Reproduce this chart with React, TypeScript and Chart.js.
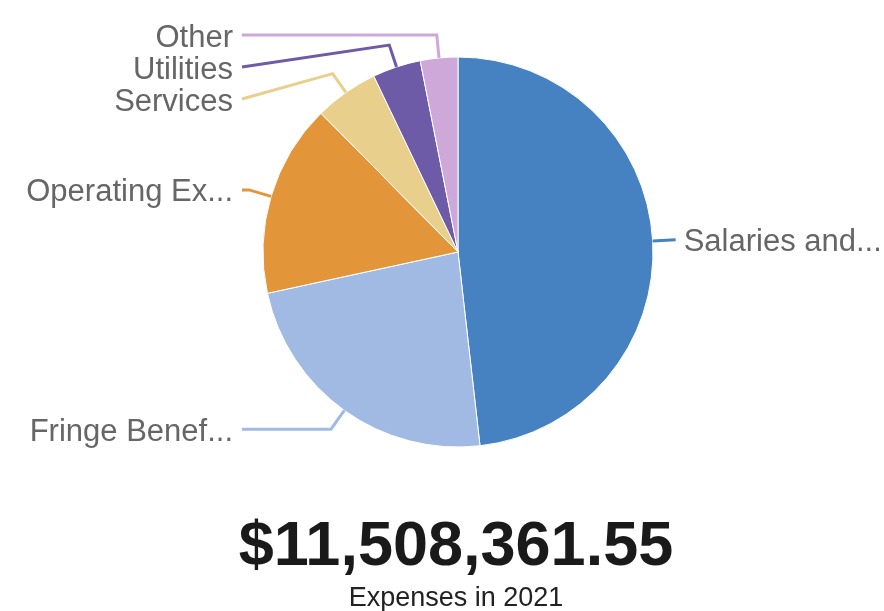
import React, { useEffect, useRef } from "react";
import { Chart, registerables } from "chart.js";

Chart.register(...registerables);

const categories = ["Salaries and...", "Fringe Benef...", "Operating Ex...", "Services", "Utilities", "Other"];
const expenses = [5547000, 2693000, 1841000, 610000, 460000, 357361.55];
const sliceColors = ["#4682c1", "#a1bae4", "#e3953a", "#e8d08c", "#6e5ba8", "#cfa8da"];
const totalLabel = "$11,508,361.55";
const subtitleLabel = "Expenses in 2021";

const W = 884;
const H = 611;

const outLabels = {
  id: "outLabels",
  afterDatasetsDraw(chart: any) {
    const ctx = chart.ctx;
    const meta = chart.getDatasetMeta(0);
    const labels = chart.data.labels as string[];
    const colors = chart.data.datasets[0].backgroundColor as string[];
    const items: any[] = [];
    meta.data.forEach((arc: any, i: number) => {
      const { x, y, startAngle, endAngle, outerRadius } = arc.getProps(
        ["x", "y", "startAngle", "endAngle", "outerRadius"],
        true
      );
      const a = (startAngle + endAngle) / 2;
      const cos = Math.cos(a);
      const sin = Math.sin(a);
      const ex = x + outerRadius * cos;
      const ey = y + outerRadius * sin;
      const er = outerRadius + 23;
      const bx = x + er * cos;
      const by = y + er * sin;
      const right = cos >= 0;
      items.push({ i, cx: x, r: outerRadius, ex, ey, bx, by, right, ly: by });
    });
    const spacing = 32;
    [true, false].forEach((side) => {
      const group = items.filter((it) => it.right === side).sort((p, q) => p.by - q.by);
      let prev = -Infinity;
      group.forEach((it) => {
        it.ly = Math.max(it.by, prev + spacing);
        prev = it.ly;
      });
    });
    ctx.save();
    ctx.font = "31px 'Liberation Sans', Arial, sans-serif";
    ctx.textBaseline = "middle";
    items.forEach((it) => {
      const endX = it.right
        ? Math.max(it.bx, it.cx + it.r + 21)
        : Math.min(it.bx, it.cx - it.r - 21);
      ctx.strokeStyle = colors[it.i];
      ctx.lineWidth = 3;
      ctx.lineJoin = "miter";
      ctx.beginPath();
      ctx.moveTo(it.ex, it.ey);
      ctx.lineTo(it.bx, it.by);
      ctx.lineTo(endX, it.ly);
      ctx.stroke();
      ctx.fillStyle = "#666666";
      ctx.textAlign = it.right ? "left" : "right";
      ctx.fillText(labels[it.i], it.right ? endX + 8 : endX - 9, it.ly + 3);
    });
    ctx.restore();
  },
};

export default function App() {
  const ref = useRef<HTMLCanvasElement | null>(null);
  useEffect(() => {
    if (!ref.current) return;
    const chart = new Chart(ref.current, {
      type: "pie",
      data: {
        labels: categories,
        datasets: [
          {
            data: expenses,
            backgroundColor: sliceColors,
            borderColor: "#ffffff",
            borderWidth: 1,
          },
        ],
      },
      options: {
        responsive: false,
        animation: false,
        radius: 195,
        layout: { padding: { left: 263, right: 231, top: 57, bottom: 164 } },
        plugins: {
          legend: { display: false },
          tooltip: { enabled: false },
        },
      } as any,
      plugins: [outLabels],
    });
    return () => chart.destroy();
  }, []);
  return (
    <div style={{ position: "absolute", left: 0, top: 0, width: W, height: H, overflow: "hidden", background: "#fff" }}>
      <canvas ref={ref} width={W} height={H} style={{ position: "absolute", left: 0, top: 0 }} />
      <div
        style={{
          position: "absolute",
          left: 56,
          width: 800,
          top: 512,
          textAlign: "center",
          font: "bold 63px 'Liberation Sans', Arial, sans-serif",
          lineHeight: "63px",
          color: "#1a1a1a",
          whiteSpace: "nowrap",
        }}
      >
        {totalLabel}
      </div>
      <div
        style={{
          position: "absolute",
          left: 56,
          width: 800,
          top: 584,
          textAlign: "center",
          font: "27px 'Liberation Sans', Arial, sans-serif",
          lineHeight: "27px",
          color: "#222222",
          whiteSpace: "nowrap",
        }}
      >
        {subtitleLabel}
      </div>
    </div>
  );
}
